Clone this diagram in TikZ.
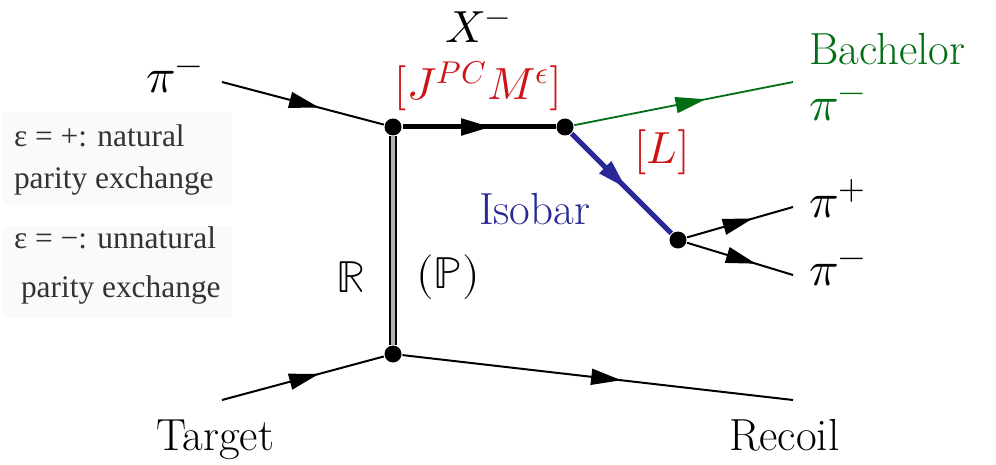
\documentclass[tikz,border=0pt]{standalone}
\usepackage{fontspec}
\usepackage{unicode-math}
\newfontfamily\notefont{Liberation Serif}
\usetikzlibrary{arrows.meta,decorations.markings}
\definecolor{bachgreen}{RGB}{0,110,20}
\definecolor{isoblue}{RGB}{40,40,150}
\definecolor{qred}{RGB}{205,20,20}
\newcommand{\lblfont}{\fontsize{22.5}{27}\selectfont}
\newcommand{\pifont}{\fontsize{24.5}{29}\selectfont}
\tikzset{
  vtx/.style={circle,fill=black,inner sep=0pt,minimum size=8.5pt},
  lbl/.style={inner sep=0pt,font=\lblfont},
  pilbl/.style={inner sep=0pt,font=\pifont},
  note/.style={inner sep=0pt,font=\notefont\fontsize{15.7}{19}\selectfont,text=black!80},
  midarrow/.style={postaction={decorate},decoration={markings,
      mark=at position #1 with {\arrow{Triangle[length=15pt,width=8pt]}}}},
  midarrow/.default=0.6
}
\begin{document}
\begin{tikzpicture}[x=0.5pt,y=-0.5pt,line width=1pt]
\useasboundingbox (0,0) rectangle (996,465);
  % parity notes
  \fill[black!2] (3,112) rectangle (232,204);
  \fill[black!2] (3,226) rectangle (232,318);
  \node[note,anchor=base west] (nat1) at (13,147) {ε = +: natural};
  \node[note,anchor=base west] (nat2) at (13,188) {parity exchange};
  \node[note,anchor=base west] (unn1) at (13,248) {ε = −: unnatural};
  \node[note,anchor=base west] (unn2) at (20,297) {parity exchange};

  % vertices
  \node[vtx] (A) at (393,127) {};
  \node[vtx] (B) at (565,127) {};
  \node[vtx] (C) at (678,240) {};
  \node[vtx] (D) at (393,354) {};
  \coordinate (pin) at (222,82);
  \coordinate (tgt) at (222,400);
  \coordinate (rec) at (793,400);
  \coordinate (bach) at (793,82);
  \coordinate (pip) at (793,207);
  \coordinate (pim) at (793,275);

  \foreach \from/\to/\pos in {pin/A/0.6, tgt/D/0.6, D/rec/0.56, C/pip/0.62, C/pim/0.65}
    \draw[midarrow=\pos] (\from) -- (\to);
  \draw[line width=2.5pt,midarrow=0.58] (A) -- (B);
  \draw[bachgreen,line width=0.9pt,midarrow=0.6] (B) -- (bach);
  \draw[isoblue,line width=2.5pt,midarrow=0.55] (B) -- (C);
  \draw[line width=0.7pt,double=black!30,double distance=2.4pt] (A) -- (D);

  % labels
  \node[pilbl,anchor=base east] (pinl) at (204,93) {$\pi^-$};
  \node[lbl,anchor=base] (xl) at (478,43) {$X^-$};
  \node[lbl,anchor=base,text=qred] (jl) at (478,100) {$[J^{PC}M^{\epsilon}]$};
  \node[lbl,anchor=base west,text=bachgreen] (bl) at (808,65) {Bachelor};
  \node[pilbl,anchor=base west,text=bachgreen] (bpl) at (808,120) {$\pi^-$};
  \node[lbl,text=qred] (ll) at (662,152) {$[L]$};
  \node[lbl,anchor=base west,text=isoblue] (il) at (478,224) {Isobar};
  \node[pilbl,anchor=base west] (pipl) at (808,217) {$\pi^+$};
  \node[pilbl,anchor=base west] (piml) at (808,285) {$\pi^-$};
  \node[lbl] (regl) at (351,277) {$\mathbb{R}$};
  \node[lbl] (poml) at (448,277) {$(\mathbb{P})$};
  \node[lbl,anchor=base west] (tgtl) at (155,450) {Target};
  \node[lbl,anchor=base west] (recl) at (728,450) {Recoil};
\end{tikzpicture}
\end{document}
